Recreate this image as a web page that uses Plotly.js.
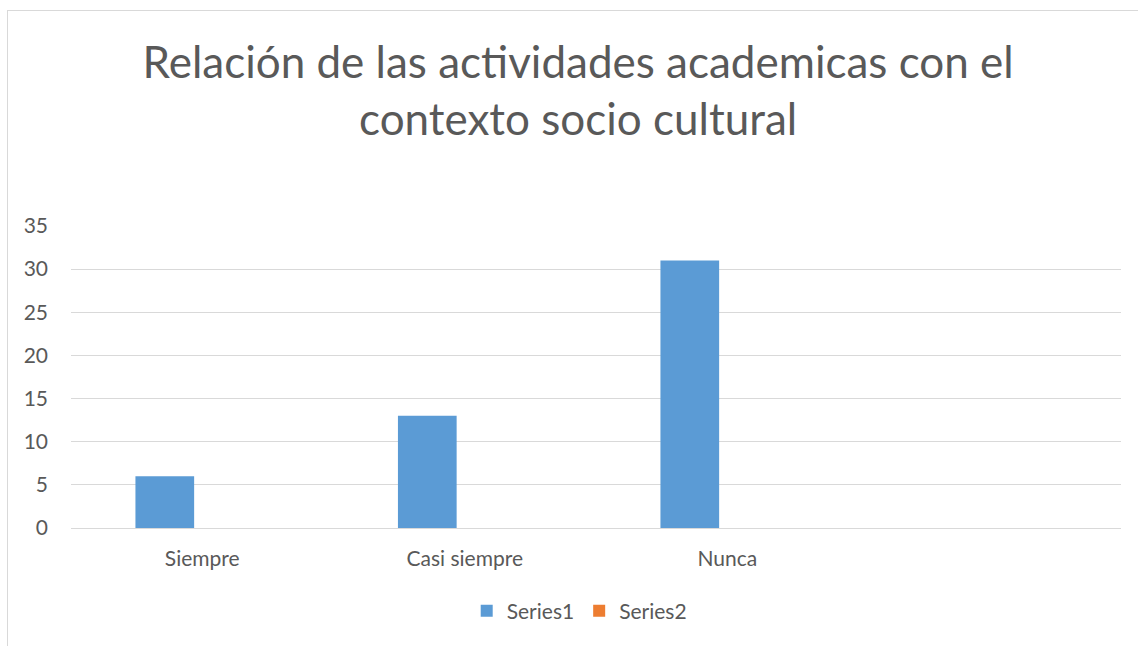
<!DOCTYPE html>
<html>
<head>
<meta charset="utf-8">
<script src="https://cdn.plot.ly/plotly-3.0.1.min.js"></script>
<style>
  html, body { margin: 0; padding: 0; background: #ffffff; }
  #frame { position: absolute; left: 7px; top: 10px; width: 1200px; height: 700px;
           border-left: 1.5px solid #d9d9d9; border-top: 1.5px solid #d9d9d9; pointer-events: none; }
  #chart { position: absolute; left: 0; top: 0; width: 1138px; height: 646px; }
</style>
</head>
<body>
<div id="chart"></div>
<div id="frame"></div>
<script>
const categories = ["Siempre", "Casi siempre", "Nunca"];
const series1 = [6, 13, 31];
const series2 = [0, 0, 0];
const seriesNames = ["Series1", "Series2"];
const yTicks = [0, 5, 10, 15, 20, 25, 30, 35];
const titleText = "Relación de las actividades academicas con el<br>contexto socio cultural";

const FONT = "Lato, 'Open Sans', sans-serif";
const TXT = "#595959";

const data = [
  {
    type: "bar", name: seriesNames[0], x: categories, y: series1,
    marker: { color: "#5b9bd5", line: { width: 0 } },
    offset: -0.2545, width: 0.2236, hoverinfo: "x+y"
  },
  {
    type: "bar", name: seriesNames[1], x: categories, y: series2,
    marker: { color: "#ed7d31", line: { width: 0 } },
    offset: -0.031, width: 0.2236, hoverinfo: "x+y"
  }
];

const layout = {
  width: 1138, height: 646,
  margin: { l: 71, r: 17, t: 226, b: 118 },
  paper_bgcolor: "rgba(0,0,0,0)",
  plot_bgcolor: "#ffffff",
  barmode: "group",
  font: { family: FONT, color: TXT },
  title: {
    text: titleText,
    font: { family: FONT, size: 44, color: TXT },
    x: 0.508, xanchor: "center", xref: "container",
    y: 0.879, yanchor: "top", yref: "container"
  },
  xaxis: {
    type: "category",
    range: [-0.5, 3.5],
    showgrid: false, zeroline: false, showline: false,
    ticks: "", ticklabelstandoff: 16,
    tickfont: { family: FONT, size: 21, color: TXT },
    fixedrange: true
  },
  yaxis: {
    range: [0, 35],
    tickvals: yTicks,
    showgrid: true, gridcolor: "#d9d9d9", gridwidth: 1,
    zeroline: true, zerolinecolor: "#d9d9d9", zerolinewidth: 1,
    showline: false, ticks: "", ticklabelstandoff: 22,
    tickfont: { family: FONT, size: 21, color: TXT },
    fixedrange: true
  },
  showlegend: true,
  legend: {
    orientation: "h",
    x: 0.484, xanchor: "center",
    y: -0.275, yanchor: "middle",
    font: { family: FONT, size: 21, color: TXT },
    bgcolor: "rgba(0,0,0,0)"
  }
};

Plotly.newPlot("chart", data, layout, { displayModeBar: false });
</script>
</body>
</html>
